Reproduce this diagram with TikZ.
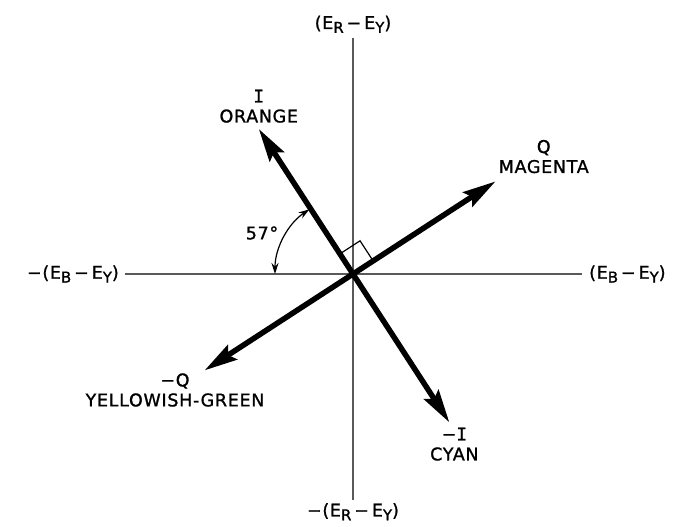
\documentclass[tikz,border=0pt]{standalone}
\usepackage{fontspec}
\setmainfont{DejaVu Sans}[LetterSpace=4, FakeBold=1.2]
\newfontfamily\serifI{DejaVu Sans Mono}[FakeBold=1.2]
\usetikzlibrary{positioning, arrows.meta}
\newcommand{\lowsub}[1]{\raisebox{-0.4ex}{\fontsize{15}{15}\selectfont #1}}

\begin{document}
\begin{tikzpicture}[
    x=1pt, y=1pt,
    font=\fontsize{17.5}{20}\selectfont,
    >=Stealth,
    axis/.style={
        draw=black!65,
        line width=1.2pt
    },
    vector/.style={
        -{Stealth[length=33pt, width=17pt, inset=5pt]},
        line width=5.5pt
    },
    axislabel/.style={
        inner sep=0pt
    },
    colorlabel/.style={
        align=center,
        inner sep=0pt
    },
    anglemark/.style={
        line width=1.2pt
    }
]
\useasboundingbox (-353,-253) rectangle (325,274);

% Origin and axis ends
\coordinate (o) at (0,0);
\coordinate (ryPos) at (0,236);
\coordinate (ryNeg) at (0,-226);
\coordinate (byPos) at (229,0);
\coordinate (byNeg) at (-228,0);

% Axes
\draw[axis] (byNeg) -- (byPos);
\draw[axis] (ryNeg) -- (ryPos);

% Axis labels
\node[axislabel, above=5pt of ryPos] (ryPosLabel) {(E\lowsub{R}\,−\,E\lowsub{Y})};
\node[axislabel, below=3pt of ryNeg] (ryNegLabel) {−(E\lowsub{R}\,−\,E\lowsub{Y})};
\node[axislabel, right=7pt of byPos] (byPosLabel) {(E\lowsub{B}\,−\,E\lowsub{Y})};
\node[axislabel, left=6pt of byNeg]  (byNegLabel) {−(E\lowsub{B}\,−\,E\lowsub{Y})};

% Vector tips
\coordinate (iTip) at (123:173);
\coordinate (iNeg) at (303:177);
\coordinate (qTip) at (33:170);
\coordinate (qNeg) at (213:177);

% Vectors
\draw[vector] (o) -- (iTip);
\draw[vector] (o) -- (iNeg);
\draw[vector] (o) -- (qTip);
\draw[vector] (o) -- (qNeg);

% Vector labels
\node[colorlabel, above=6pt of iTip] (iLabel) {{\serifI I}\\ORANGE};
\node[colorlabel, above right=8pt and 3pt of qTip] (qLabel) {Q\\MAGENTA};
\node[colorlabel] (qNegLabel) at (-178,-116) {−Q\\YELLOWISH-GREEN};
\node[colorlabel, below=5pt of iNeg, xshift=5pt] (iNegLabel) {−{\serifI I}\\CYAN};

% 57 degree angle
\draw[anglemark, {Stealth[length=11pt, width=7pt]}-{Stealth[length=11pt, width=7pt]}]
    ([shift={(124:78)}]o) arc[start angle=124, end angle=180, radius=78];
\node (angleLabel) at (-91,41) {57°};

% Right angle between I and Q
\draw[anglemark] ([shift={(123:24)}]o) -- ++(33:24) -- ++(303:24);

\end{tikzpicture}
\end{document}
